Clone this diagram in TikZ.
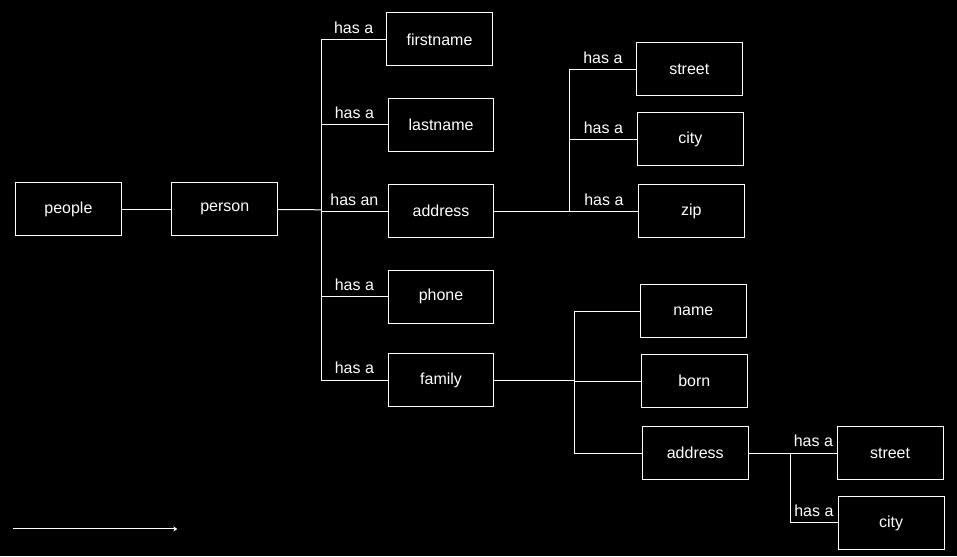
\documentclass[tikz,border=0pt]{standalone}
\usepackage{fontspec}
\setmainfont{Liberation Sans}
\usetikzlibrary{arrows.meta}

\begin{document}
\begin{tikzpicture} [x=1pt, y=-1pt,
					box/.style = {draw=white,
					    line width = 1pt,
					    minimum width = 106pt,
					    minimum height = 53pt,
					    text = white,
					    font = \fontsize{16pt}{19pt}\selectfont},
					hasa/.style = {pos = .75,
					    above = 4.5pt,
					    inner sep = 1pt,
					    text = white,
					    font = \fontsize{16pt}{19pt}\selectfont},
					every path/.style = {draw=white, line width = 1pt}]

					\fill[black] (0,0) rectangle (957,556);

					\node (people) at (68,209) [box] {people};
					\node (person) at (224.5,209) [box] {person};

					\node (fname) at (439.5,39) [box] {firstname};
					\node (lname) at (441,124.5) [box] {lastname};
					\node (addr) at (441,211) [box] {address};
					\node (phone) at (441,296.5) [box] {phone};
					\node (family) at (441,380) [box] {family};

					\node (street) at (689.5,69) [box] {street};
					\node (city) at (690.5,139) [box] {city};
					\node (zip) at (691.5,211) [box] {zip};

					\node (name) at (693.5,311) [box] {name};
					\node (born) at (694.5,381) [box] {born};
					\node (faddr) at (695.5,453) [box] {address};

					\node (fstreet) at (890.5,453) [box] {street};
					\node (fcity) at (891.5,523) [box] {city};

					\coordinate (pj) at (321,209.5);
					\coordinate (aj) at (570,211);
					\coordinate (fj) at (574.5,380);
					\coordinate (sj) at (790.5,453);

					\draw (people) -- (person);
					\draw (person) -- (pj);
					\draw (pj) |- node[hasa] {has a} (fname);
					\draw (pj) |- node[hasa] {has a} (lname);
					\draw (pj) |- node[hasa] {has an} (addr);
					\draw (pj) |- node[hasa] {has a} (phone);
					\draw (pj) |- node[hasa] {has a} (family);

					\draw (addr) -- (aj);
					\draw (aj) |- node[hasa] {has a} (street);
					\draw (aj) |- node[hasa] {has a} (city);
					\draw (aj) |- node[hasa] {has a} (zip);

					\draw (family) -- (fj);
					\draw (fj) |- (name);
					\draw (fj) |- (born);
					\draw (fj) |- (faddr);

					\draw (faddr) -- (sj);
					\draw (sj) |- node[hasa] {has a} (fstreet);
					\draw (sj) |- node[hasa] {has a} (fcity);

					\coordinate (as) at (13,529);
					\coordinate (ae) at (177,529);
					\draw[-{Stealth[length=4pt, width=5pt]}] (as) -- (ae);

				\end{tikzpicture}
\end{document}
